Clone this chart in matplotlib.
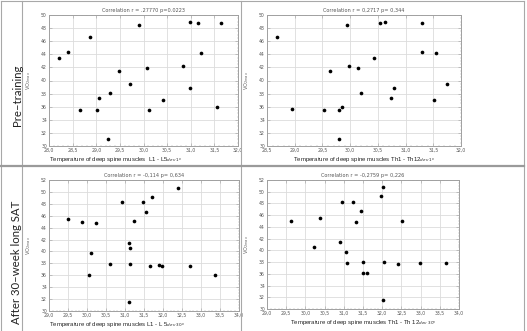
import numpy as np
import matplotlib
matplotlib.use('Agg')
from matplotlib import pyplot as plt
from matplotlib.lines import Line2D
from matplotlib.ticker import FuncFormatter, MultipleLocator

# pre-training, L1-L5
pre_l_x = [28.21, 28.41, 28.86, 28.66, 29.02, 29.05, 29.29, 29.24, 29.48, 29.71, 29.90,
           30.08, 30.11, 30.42, 30.83, 30.99, 30.99, 31.16, 31.21, 31.55, 31.64]
pre_l_y = [43.47, 44.39, 46.63, 35.51, 35.56, 37.40, 38.06, 31.02, 41.48, 39.54, 48.47,
           41.89, 35.46, 37.04, 42.14, 48.98, 38.88, 48.72, 44.13, 35.97, 48.72]

# pre-training, Th1-Th12
pre_t_x = [28.68, 28.96, 29.53, 29.63, 29.80, 29.86, 29.80, 29.95, 29.98, 30.15, 30.20,
           30.43, 30.53, 30.63, 30.73, 30.79, 31.29, 31.29, 31.55, 31.52, 31.74]
pre_t_y = [46.63, 35.61, 35.51, 41.48, 35.51, 35.97, 31.02, 48.42, 42.14, 41.89, 38.06,
           43.47, 48.72, 48.98, 37.40, 38.88, 48.72, 44.39, 44.13, 37.04, 39.54]

# after SAT, L1-L5
post_l_x = [29.51, 29.87, 30.24, 30.11, 30.06, 30.60, 30.93, 31.11, 31.13, 31.13, 31.11,
            31.23, 31.48, 31.56, 31.70, 31.66, 31.89, 31.98, 32.40, 32.72, 33.37]
post_l_y = [45.49, 44.93, 44.82, 39.71, 36.12, 37.97, 48.24, 41.45, 40.55, 37.97, 31.46,
            45.04, 48.24, 46.61, 49.19, 37.63, 37.80, 37.52, 50.65, 37.63, 36.06]

# after SAT, Th1-Th12
post_t_x = [29.63, 30.23, 30.38, 30.90, 30.96, 31.05, 31.08, 31.23, 31.32, 31.46, 31.51,
            31.50, 31.60, 31.97, 32.01, 32.04, 32.01, 32.51, 32.42, 32.98, 33.67]
post_t_y = [44.97, 40.55, 45.48, 41.51, 48.26, 39.76, 37.88, 48.26, 44.80, 46.67, 38.05,
            36.13, 36.13, 49.28, 50.75, 38.05, 31.59, 45.03, 37.60, 37.77, 37.77]

titles = ['Correlation r = .27770 p=0.0223', 'Correlation r = 0,2717 p= 0,344',
          'Correlation r = -0,114 p= 0,634', 'Correlation r = -0,2759 p= 0,226']
xlabels = ['Temperature of deep spine muscles  L1 - L5$_{dev\\ 1^o}$',
           'Temperature of deep spine muscles Th1 - Th12$_{dev\\ 1^o}$',
           'Temperature of deep spine muscles L1 - L 5$_{dev\\ 30^o}$',
           'Temperature of deep spine muscles Th1 - Th 12$_{dev\\ 30^o}$']
row_labels = ['Pre\u2013training', 'After 30\u2013week long SAT']

W, H = 527, 331
fig = plt.figure(figsize=(W / 100, H / 100), dpi=100)

def px_axes(l, r, t, b):
    return fig.add_axes([l / W, 1 - b / H, (r - l) / W, (b - t) / H])

panels = [
    (px_axes(49, 238, 15, 146), pre_l_x, pre_l_y, (28.0, 32.0), (30, 50)),
    (px_axes(267, 461, 15, 146), pre_t_x, pre_t_y, (28.5, 32.0), (30, 50)),
    (px_axes(49, 239, 180, 311), post_l_x, post_l_y, (29.0, 34.0), (30, 52)),
    (px_axes(267, 459, 180, 309), post_t_x, post_t_y, (29.0, 34.0), (30, 52)),
]

comma = FuncFormatter(lambda v, p: ('%.1f' % v).replace('.', ','))

for i, (ax, xs, ys, xl, yl) in enumerate(panels):
    ax.scatter(xs, ys, s=7, c='black', marker='o', zorder=3, linewidths=0)
    ax.set_xlim(*xl)
    ax.set_ylim(*yl)
    ax.xaxis.set_major_locator(MultipleLocator(0.5))
    ax.yaxis.set_major_locator(MultipleLocator(2))
    ax.xaxis.set_minor_locator(MultipleLocator(0.1))
    ax.yaxis.set_minor_locator(MultipleLocator(0.5))
    ax.xaxis.set_major_formatter(comma)
    ax.grid(True, which='major', color='#dcdcdc', linewidth=0.6)
    ax.set_axisbelow(True)
    for s in ax.spines.values():
        s.set_color('#a0a0a0')
        s.set_linewidth(0.7)
    ax.tick_params(which='both', direction='in', top=True, right=True,
                   color='#a0a0a0', labelsize=3.3, labelcolor='#555555', pad=1.5)
    ax.tick_params(which='major', length=2, width=0.4)
    ax.tick_params(which='minor', length=1, width=0.3)
    ax.set_title(titles[i], fontsize=3.6, color='#555555', pad=2.5)
    ax.set_xlabel(xlabels[i], fontsize=4.3, color='#222222', labelpad=2,
                  family='Liberation Sans')
    ax.set_ylabel('VO$_{2max}$', fontsize=3.6, color='#666666', labelpad=6)
    if i % 2 == 0:
        # left column labels sit towards the left edge
        ax.xaxis.label.set_horizontalalignment('left')
        ax.xaxis.set_label_coords(0.0, -0.07)
    else:
        ax.xaxis.set_label_coords(0.5, -0.07)

# table lines
def fline(x0, y0, x1, y1, lw=0.8, color='#a8a8a8'):
    fig.add_artist(Line2D([x0 / W, x1 / W], [1 - y0 / H, 1 - y1 / H],
                          transform=fig.transFigure, color=color, linewidth=lw))

fline(0.5, 1, 524, 1)
fline(0.5, 1, 0.5, H)
fline(524, 1, 524, H)
fline(22, 1, 22, H)
fline(241, 1, 241, H)
fline(0, 166, 524, 166, lw=1.6, color='#9a9a9a')

fig.text(17 / W, 1 - 95 / H, row_labels[0], rotation=90, ha='center', va='center',
         fontsize=8.2, family='Lato', color='#222222')
fig.text(17 / W, 1 - 262 / H, row_labels[1], rotation=90, ha='center', va='center',
         fontsize=8.2, family='Lato', color='#222222')

fig.savefig('out.png', dpi=100)
